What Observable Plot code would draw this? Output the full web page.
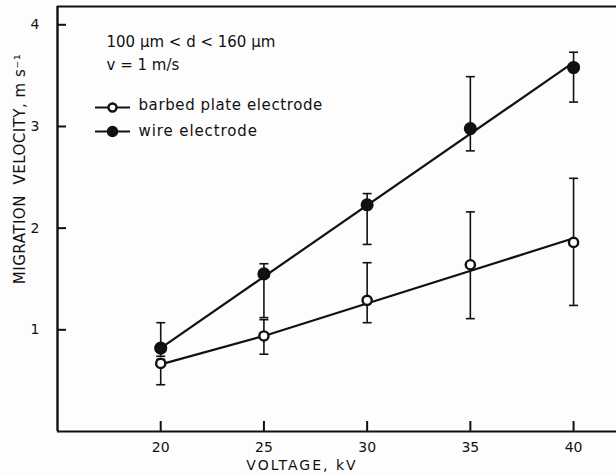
<!DOCTYPE html>
<html>
<head>
<meta charset="utf-8">
<script src="https://cdn.jsdelivr.net/npm/d3@7"></script>
<script src="https://cdn.jsdelivr.net/npm/@observablehq/plot@0.6"></script>
<style>
  html, body { margin: 0; padding: 0; background: #fdfdfd; }
  #chart svg { display: block; }
</style>
</head>
<body>
<div id="chart"></div>
<script>
// ---- data ----
const voltage = [20, 25, 30, 35, 40];
const wireVel = [0.82, 1.55, 2.23, 2.98, 3.58];
const wireLo  = [0.74, 1.12, 1.84, 2.76, 3.24];
const wireHi  = [1.07, 1.65, 2.34, 3.49, 3.73];
const plateVel = [0.67, 0.94, 1.29, 1.64, 1.86];
const plateLo  = [0.46, 0.76, 1.07, 1.11, 1.24];
const plateHi  = [0.71, 1.10, 1.66, 2.16, 2.49];
// fitted lines as drawn
const wireFitX = [20, 40];
const wireFitY = [0.82, 3.63];
const plateFitX = [20, 25, 40];
const plateFitY = [0.66, 0.94, 1.90];
const xTicks = [20, 25, 30, 35, 40];
const yTicks = [1, 2, 3, 4];
const xDomain = [15, 42.08];
const yDomain = [0, 4.18];
const seriesNames = ["barbed plate electrode", "wire electrode"];
const noteLines = ["100 µm < d < 160 µm", "v = 1 m/s"];
const xLabel = "VOLTAGE, kV";
const yLabel = "MIGRATION  VELOCITY, m s\u207B\u00B9";

const wire = voltage.map((v, i) => ({v, y: wireVel[i], lo: wireLo[i], hi: wireHi[i]}));
const plate = voltage.map((v, i) => ({v, y: plateVel[i], lo: plateLo[i], hi: plateHi[i]}));
const wireFit = wireFitX.map((v, i) => ({v, y: wireFitY[i]}));
const plateFit = plateFitX.map((v, i) => ({v, y: plateFitY[i]}));

// horizontal-line symbol (half width = r)
const hline = {
  draw(context, size) {
    const w = Math.sqrt(size / Math.PI);
    context.moveTo(-w, 0);
    context.lineTo(w, 0);
  }
};

const ink = "#111";
const font = "DejaVu Sans, sans-serif";

const errMarks = (data) => [
  Plot.ruleX(data, {x: "v", y1: "lo", y2: "hi", stroke: ink, strokeWidth: 1.6}),
  Plot.dot(data, {x: "v", y: "lo", symbol: hline, r: 4.5, stroke: ink, strokeWidth: 1.6, fill: "none"}),
  Plot.dot(data, {x: "v", y: "hi", symbol: hline, r: 4.5, stroke: ink, strokeWidth: 1.6, fill: "none"})
];

const chart = Plot.plot({
  width: 616,
  height: 475,
  marginLeft: 57,
  marginRight: 0,
  marginTop: 6,
  marginBottom: 44,
  style: {fontFamily: font, fontSize: "14px", color: ink, background: "transparent"},
  x: {domain: xDomain, ticks: xTicks},
  y: {domain: yDomain, ticks: yTicks},
  marks: [
    // frame
    Plot.ruleX([xDomain[0]], {stroke: ink, strokeWidth: 2.4}),
    Plot.ruleY([yDomain[0]], {stroke: ink, strokeWidth: 2.2}),
    Plot.ruleY([yDomain[1]], {stroke: ink, strokeWidth: 2.2}),
    // axes with inward ticks
    Plot.axisX({ticks: xTicks, tickFormat: "d", tickSize: 10, dy: -10, tickPadding: 11, stroke: ink, strokeWidth: 2, fontSize: 14, label: null}),
    Plot.axisY({ticks: yTicks, tickFormat: "d", tickSize: 9, dx: 9, tickPadding: 18, stroke: ink, strokeWidth: 2, fontSize: 14, label: null}),
    // error bars
    ...errMarks(plate),
    ...errMarks(wire),
    // fitted lines
    Plot.line(plateFit, {x: "v", y: "y", stroke: ink, strokeWidth: 2.2}),
    Plot.line(wireFit, {x: "v", y: "y", stroke: ink, strokeWidth: 2.2}),
    // points
    Plot.dot(plate, {x: "v", y: "y", r: 4.6, fill: "white", stroke: ink, strokeWidth: 2.4}),
    Plot.dot(wire, {x: "v", y: "y", r: 5.8, fill: ink, stroke: ink}),
    // annotation
    Plot.text([noteLines[0]], {text: d => d, frameAnchor: "top-left", dx: 49, dy: 36, textAnchor: "start", lineAnchor: "middle", fontSize: 15, fill: ink}),
    Plot.text([noteLines[1]], {text: d => d, frameAnchor: "top-left", dx: 49, dy: 59, textAnchor: "start", lineAnchor: "middle", fontSize: 15, fill: ink}),
    // legend
    Plot.dot([0], {frameAnchor: "top-left", dx: 55, dy: 101, symbol: hline, r: 17.5, stroke: ink, strokeWidth: 2.2}),
    Plot.dot([0], {frameAnchor: "top-left", dx: 55, dy: 101, r: 4, fill: "white", stroke: ink, strokeWidth: 2.4}),
    Plot.dot([0], {frameAnchor: "top-left", dx: 55, dy: 125, symbol: hline, r: 17.5, stroke: ink, strokeWidth: 2.2}),
    Plot.dot([0], {frameAnchor: "top-left", dx: 55, dy: 125, r: 5, fill: ink, stroke: ink}),
    Plot.text([seriesNames[0]], {text: d => d, frameAnchor: "top-left", dx: 81, dy: 99, textAnchor: "start", lineAnchor: "middle", fontSize: 15, fill: ink}),
    Plot.text([seriesNames[1]], {text: d => d, frameAnchor: "top-left", dx: 81, dy: 125, textAnchor: "start", lineAnchor: "middle", fontSize: 15, fill: ink}),
    // axis titles
    Plot.text([xLabel], {text: d => d, frameAnchor: "bottom", dx: -35, dy: 34, textAnchor: "middle", lineAnchor: "middle", fontSize: 14, fill: ink}),
    Plot.text([yLabel], {text: d => d, frameAnchor: "left", dx: -37, dy: -50, rotate: -90, textAnchor: "middle", lineAnchor: "middle", fontSize: 15, fill: ink})
  ]
});

// letter spacing (not a Plot text option)
const spacing = new Map([
  [seriesNames[0], "0.6px"], [seriesNames[1], "0.9px"],
  [xLabel, "2px"], [yLabel, "0.5px"]
]);
d3.select(chart).selectAll("text").each(function() {
  const s = spacing.get(this.textContent);
  if (s) this.setAttribute("letter-spacing", s);
});

document.getElementById("chart").appendChild(chart);
</script>
</body>
</html>
